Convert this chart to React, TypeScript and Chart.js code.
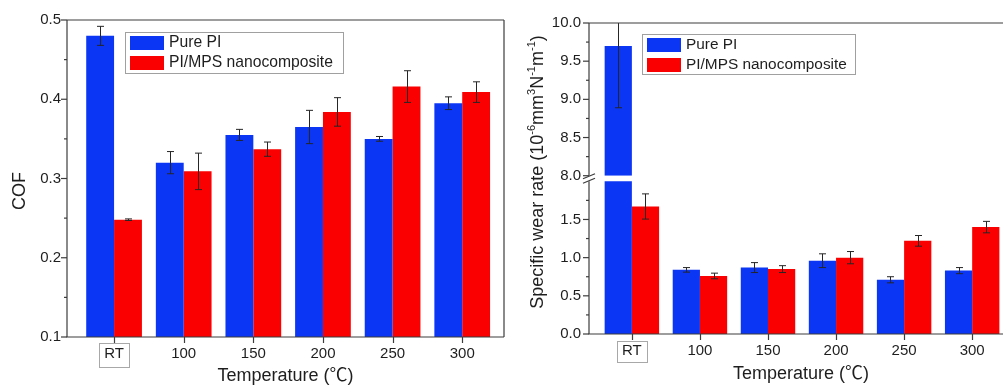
import React, { useEffect, useRef } from 'react';
import { Chart, registerables } from 'chart.js';

Chart.register(...registerables);

// ---------------- data ----------------
const categories = ['RT', '100', '150', '200', '250', '300'];
const seriesNames = ['Pure PI', 'PI/MPS nanocomposite'];
const seriesColors = ['#0b36f4', '#fa0000'];

const cofPure = [0.48, 0.32, 0.355, 0.365, 0.35, 0.395];
const cofPureErr = [0.012, 0.014, 0.007, 0.021, 0.003, 0.008];
const cofNano = [0.248, 0.309, 0.337, 0.384, 0.416, 0.409];
const cofNanoErr = [0.001, 0.023, 0.009, 0.018, 0.02, 0.013];

const wearPure = [9.7, 0.84, 0.87, 0.96, 0.71, 0.83];
const wearPureErr = [0.81, 0.03, 0.065, 0.09, 0.04, 0.04];
const wearNano = [1.67, 0.76, 0.85, 1.0, 1.22, 1.4];
const wearNanoErr = [0.165, 0.037, 0.045, 0.08, 0.07, 0.075];

const cofAxis = { min: 0.1, max: 0.5, step: 0.1 };
const wearLowerAxis = { min: 0, breakAt: 2.0, max: 2.073, step: 0.5 };
const wearUpperAxis = { min: 8.0, max: 10.0, step: 0.5 };
const xAxisMax = 5.6;

const wearTitleParts: [string, boolean][] = [
  ['Specific wear rate (10', false],
  ['-6', true],
  ['mm', false],
  ['3', true],
  ['N', false],
  ['-1', true],
  ['m', false],
  ['-1', true],
  [')', false],
];

// ---------------- styles ----------------
const FONT = "'Liberation Sans', Arial, 'Noto Sans CJK SC', sans-serif";
const TEXT = '#1e1e1e';
const AXIS = '#3c3c3c';

const pts = (vals: number[]) => vals.map((y, x) => ({ x, y }));

// error bars + per-dataset clipping to its own (broken) axis segment
const errorBarPlugin = {
  id: 'errorBars',
  beforeDatasetDraw(chart: any, args: any) {
    const ds = chart.data.datasets[args.index];
    const ys = chart.scales[args.meta.yAxisID];
    const a = chart.chartArea;
    const top = ds.clipTop != null ? ys.getPixelForValue(ds.clipTop) : a.top;
    const bottom = ds.clipBottom != null ? ys.getPixelForValue(ds.clipBottom) : a.bottom;
    const ctx = chart.ctx;
    ctx.save();
    ctx.beginPath();
    ctx.rect(a.left, top, a.right - a.left, bottom - top);
    ctx.clip();
  },
  afterDatasetDraw(chart: any, args: any) {
    const ds = chart.data.datasets[args.index];
    const ys = chart.scales[args.meta.yAxisID];
    const ctx = chart.ctx;
    if (ds.errors) {
      ctx.strokeStyle = '#262626';
      ctx.lineWidth = 1;
      args.meta.data.forEach((bar: any, i: number) => {
        const v = ds.data[i].y;
        const e = ds.errors[i];
        const x = Math.round(bar.x) + 0.5;
        const y1 = ys.getPixelForValue(v + e);
        const y2 = ys.getPixelForValue(v - e);
        ctx.beginPath();
        ctx.moveTo(x, y1);
        ctx.lineTo(x, y2);
        ctx.moveTo(x - 3.5, y1);
        ctx.lineTo(x + 3.5, y1);
        ctx.moveTo(x - 3.5, y2);
        ctx.lineTo(x + 3.5, y2);
        ctx.stroke();
      });
    }
    ctx.restore();
  },
};

const decorPlugin = {
  id: 'decor',
  afterDraw(chart: any, _args: any, o: any) {
    const { ctx, chartArea: a } = chart;
    const xs = chart.scales.x;
    const line = (x1: number, y1: number, x2: number, y2: number) => {
      ctx.beginPath();
      ctx.moveTo(x1, y1);
      ctx.lineTo(x2, y2);
      ctx.stroke();
    };
    ctx.save();
    ctx.strokeStyle = AXIS;
    ctx.lineWidth = 1.2;
    line(a.left, a.top, a.right, a.top);
    line(a.right, a.top, a.right, a.bottom);
    line(a.left - 0.6, a.bottom, a.right, a.bottom);
    if (o.yBreak) {
      const hi = chart.scales[o.yBreak.highId].getPixelForValue(o.yBreak.highVal);
      const lo = chart.scales[o.yBreak.lowId].getPixelForValue(o.yBreak.lowVal);
      line(a.left, a.top, a.left, hi);
      line(a.left, lo, a.left, a.bottom);
      line(a.left - 6, hi + 3, a.left + 6, hi - 2);
      line(a.left - 6, lo + 2, a.left + 6, lo - 3);
    } else {
      line(a.left, a.top, a.left, a.bottom);
    }
    // x ticks
    xs.ticks.forEach((t: any) => {
      const px = Math.round(xs.getPixelForValue(t.value)) + 0.5;
      line(px, a.bottom, px, a.bottom + 6);
    });
    // y ticks (major + minor)
    o.yAxes.forEach((ax: any) => {
      const s = chart.scales[ax.id];
      s.ticks.forEach((t: any) => {
        const py = s.getPixelForValue(t.value);
        line(a.left - 6, py, a.left, py);
        const m = t.value + ax.step / 2;
        if (m <= ax.limit + 1e-9) {
          const pm = s.getPixelForValue(m);
          line(a.left - 3, pm, a.left, pm);
        }
      });
    });
    // RT box
    ctx.font = `15px ${FONT}`;
    const rx = xs.getPixelForValue(0);
    const w = ctx.measureText(categories[0]).width;
    ctx.strokeStyle = '#a8a8a8';
    ctx.lineWidth = 1;
    ctx.strokeRect(Math.round(rx - w / 2 - 5) + 0.5, Math.round(a.bottom + o.rt.dy - o.rt.h / 2) + 0.5, Math.round(w + 10), o.rt.h);
    // legend
    const L = o.legend;
    const lx = Math.round(a.left + L.x);
    const ly = Math.round(a.top + L.y);
    ctx.fillStyle = '#fff';
    ctx.fillRect(lx, ly, L.w, L.h);
    ctx.strokeStyle = '#a0a0a0';
    ctx.strokeRect(lx + 0.5, ly + 0.5, L.w, L.h);
    chart.data.datasets.slice(0, 2).forEach((ds: any, i: number) => {
      ctx.fillStyle = ds.backgroundColor;
      ctx.fillRect(lx + 5, ly + 4 + i * 20, 34, 14);
      ctx.fillStyle = TEXT;
      ctx.font = `${L.font}px ${FONT}`;
      ctx.textBaseline = 'middle';
      ctx.textAlign = 'left';
      ctx.fillText(ds.label, lx + 44, ly + 11 + i * 19.5);
    });
    // y title (rotated, with superscripts)
    const T = o.yTitle;
    ctx.save();
    ctx.translate(T.x, a.top + T.y);
    ctx.rotate(-Math.PI / 2);
    const mainF = `18px ${FONT}`;
    const supF = `11px ${FONT}`;
    let total = 0;
    T.parts.forEach(([s, sup]: [string, boolean]) => {
      ctx.font = sup ? supF : mainF;
      total += ctx.measureText(s).width;
    });
    let x = -total / 2;
    ctx.fillStyle = TEXT;
    ctx.textBaseline = 'middle';
    ctx.textAlign = 'left';
    T.parts.forEach(([s, sup]: [string, boolean]) => {
      ctx.font = sup ? supF : mainF;
      ctx.fillText(s, x, sup ? -6 : 0);
      x += ctx.measureText(s).width;
    });
    ctx.restore();
    ctx.restore();
  },
};

function xScale(min: number, height: number, titlePadBottom: number) {
  return {
    type: 'linear',
    position: 'bottom',
    min,
    max: xAxisMax,
    offset: false,
    grid: { display: false, drawTicks: false },
    border: { display: false },
    ticks: {
      stepSize: 1,
      includeBounds: false,
      autoSkip: false,
      maxRotation: 0,
      padding: 8,
      color: TEXT,
      font: { family: FONT, size: 15 },
      callback: (v: any) => categories[Math.round(Number(v))] ?? '',
    },
    title: {
      display: true,
      text: 'Temperature (℃)',
      color: TEXT,
      font: { family: FONT, size: 18 },
      padding: { top: 0, bottom: titlePadBottom },
    },
    afterFit: (s: any) => {
      s.height = height;
    },
  };
}

function yScale(axis: { min: number; max: number; step: number }, width: number, padding: number, extra: any = {}) {
  return {
    type: 'linear',
    position: 'left',
    min: axis.min,
    max: axis.max,
    stacked: false,
    grid: { display: false, drawTicks: false },
    border: { display: false },
    ticks: {
      stepSize: axis.step,
      includeBounds: false,
      padding,
      color: TEXT,
      font: { family: FONT, size: 15 },
      callback: (v: any) => Number(v).toFixed(1),
    },
    afterFit: (s: any) => {
      s.width = width;
    },
    ...extra,
  };
}

function cofConfig(): any {
  return {
    type: 'bar',
    data: {
      datasets: [
        { label: seriesNames[0], data: pts(cofPure), errors: cofPureErr, backgroundColor: seriesColors[0] },
        { label: seriesNames[1], data: pts(cofNano), errors: cofNanoErr, backgroundColor: seriesColors[1] },
      ],
    },
    options: {
      animation: false,
      responsive: false,
      layout: { padding: { top: 20, right: 6, bottom: 0, left: 0 } },
      datasets: { bar: { categoryPercentage: 0.8, barPercentage: 1.0, borderWidth: 0 } },
      plugins: {
        legend: { display: false },
        tooltip: { enabled: false },
        decor: {
          yAxes: [{ id: 'y', step: cofAxis.step, limit: cofAxis.max }],
          legend: { x: 58, y: 12, w: 218, h: 41, font: 15.7 },
          rt: { dy: 18, h: 24 },
          yTitle: { x: 20, y: 171, parts: [['COF', false]] },
        },
      },
      scales: {
        x: xScale(-0.676, 50, 0),
        y: yScale(cofAxis, 67, 6),
      },
    },
    plugins: [errorBarPlugin, decorPlugin],
  };
}

function wearConfig(): any {
  return {
    type: 'bar',
    data: {
      datasets: [
        { label: seriesNames[0], data: pts(wearPure), errors: wearPureErr, backgroundColor: seriesColors[0], yAxisID: 'yLow', stack: 'pure', clipTop: wearLowerAxis.breakAt },
        { label: seriesNames[1], data: pts(wearNano), errors: wearNanoErr, backgroundColor: seriesColors[1], yAxisID: 'yLow', stack: 'nano', clipTop: wearLowerAxis.breakAt },
        { label: seriesNames[0], data: pts(wearPure), errors: wearPureErr, backgroundColor: seriesColors[0], yAxisID: 'yHigh', stack: 'pure', clipBottom: wearUpperAxis.min },
        { label: seriesNames[1], data: pts(wearNano), errors: wearNanoErr, backgroundColor: seriesColors[1], yAxisID: 'yHigh', stack: 'nano', clipBottom: wearUpperAxis.min },
      ],
    },
    options: {
      animation: false,
      responsive: false,
      layout: { padding: { top: 23, right: 7, bottom: 0, left: 0 } },
      datasets: { bar: { categoryPercentage: 0.8, barPercentage: 1.0, borderWidth: 0 } },
      plugins: {
        legend: { display: false },
        tooltip: { enabled: false },
        decor: {
          yAxes: [
            { id: 'yLow', step: wearLowerAxis.step, limit: wearLowerAxis.breakAt },
            { id: 'yHigh', step: wearUpperAxis.step, limit: wearUpperAxis.max },
          ],
          yBreak: { lowId: 'yLow', lowVal: wearLowerAxis.breakAt, highId: 'yHigh', highVal: wearUpperAxis.min },
          legend: { x: 53, y: 11, w: 213, h: 40, font: 15.4 },
          rt: { dy: 17.5, h: 21 },
          yTitle: { x: 28, y: 149, parts: wearTitleParts },
        },
      },
      scales: {
        x: xScale(-0.63, 53, 2),
        yLow: yScale(wearLowerAxis, 79, 8, {
          stack: 'wear',
          stackWeight: wearLowerAxis.max - wearLowerAxis.min,
          afterBuildTicks: (s: any) => {
            s.ticks = s.ticks.filter((t: any) => t.value < wearLowerAxis.breakAt - 1e-9);
          },
        }),
        yHigh: yScale(wearUpperAxis, 79, 8, {
          stack: 'wear',
          stackWeight: wearUpperAxis.max - wearUpperAxis.min,
        }),
      },
    },
    plugins: [errorBarPlugin, decorPlugin],
  };
}

export default function App() {
  const leftRef = useRef<HTMLCanvasElement>(null);
  const rightRef = useRef<HTMLCanvasElement>(null);
  useEffect(() => {
    const c1 = new Chart(leftRef.current as HTMLCanvasElement, cofConfig());
    const c2 = new Chart(rightRef.current as HTMLCanvasElement, wearConfig());
    return () => {
      c1.destroy();
      c2.destroy();
    };
  }, []);
  return (
    <div style={{ position: 'fixed', left: 0, top: 0, width: 1003, height: 387, overflow: 'hidden', background: '#fff' }}>
      <canvas ref={leftRef} width={510} height={387} style={{ position: 'absolute', left: 0, top: 0 }} />
      <canvas ref={rightRef} width={510} height={387} style={{ position: 'absolute', left: 510, top: 0 }} />
    </div>
  );
}
